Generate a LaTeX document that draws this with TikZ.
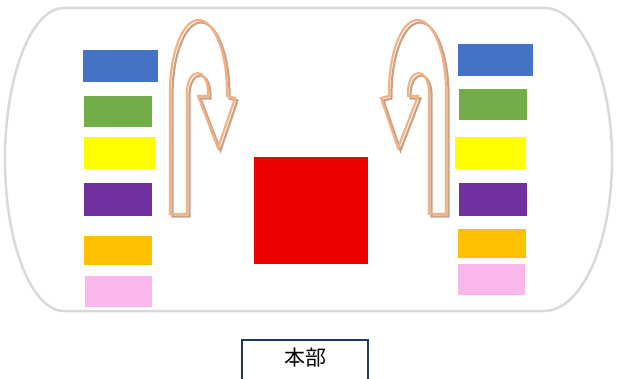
\documentclass[tikz,border=0pt]{standalone}
\usepackage{fontspec}
\newfontfamily\cjk{Noto Sans CJK JP}
\definecolor{outlinegray}{HTML}{D9D9D9}
\definecolor{cblue}{HTML}{4472C4}
\definecolor{cgreen}{HTML}{70AD47}
\definecolor{cyellow}{HTML}{FFFF00}
\definecolor{cpurple}{HTML}{7030A0}
\definecolor{corange}{HTML}{FFC000}
\definecolor{cpink}{HTML}{F9B7EB}
\definecolor{cred}{HTML}{EE0000}
\definecolor{arrfront}{HTML}{F4B183}
\definecolor{arrshadow}{HTML}{C9A187}
\definecolor{navy}{HTML}{1F3864}
\begin{document}
\begin{tikzpicture}[x=1pt,y=-1pt,
  colbox/.style={rectangle, inner sep=0pt, outer sep=0pt, draw=none},
  outlinesty/.style={draw=outlinegray, line width=2.5pt},
  arrowfront/.style={draw=arrfront, line width=2.2pt, line join=miter},
  arrowshadow/.style={draw=arrshadow, line width=2.2pt, line join=miter},
  hqbox/.style={rectangle, draw=navy, line width=2.2pt, inner sep=0pt,
    minimum width=125.5pt, minimum height=47pt, font=\cjk\fontsize{21}{24}\selectfont,
    text height=15pt, text depth=10pt}
]
\useasboundingbox (0,0) rectangle (617,379);

% outer rounded frame
\draw[outlinesty] (64,8) -- (544,8)
  arc[start angle=90, end angle=-90, x radius=68pt, y radius=151.5pt]
  -- (64,311)
  arc[start angle=270, end angle=90, x radius=59pt, y radius=151.5pt]
  -- cycle;

% left column
\node[colbox, fill=cblue,   minimum width=75pt, minimum height=32pt] (l1) at (120.5,66) {};
\node[colbox, fill=cgreen,  minimum width=68pt, minimum height=31pt] (l2) at (118,111.5) {};
\node[colbox, fill=cyellow, minimum width=71pt, minimum height=32pt] (l3) at (119.5,153) {};
\node[colbox, fill=cpurple, minimum width=68pt, minimum height=33pt] (l4) at (118,199.5) {};
\node[colbox, fill=corange, minimum width=68pt, minimum height=29pt] (l5) at (118,250.5) {};
\node[colbox, fill=cpink,   minimum width=67pt, minimum height=31pt] (l6) at (118.5,291.5) {};

% right column
\node[colbox, fill=cblue,   minimum width=75pt, minimum height=32pt] (r1) at (495.5,60) {};
\node[colbox, fill=cgreen,  minimum width=68pt, minimum height=31pt] (r2) at (493,104.5) {};
\node[colbox, fill=cyellow, minimum width=71pt, minimum height=32pt] (r3) at (490.5,153) {};
\node[colbox, fill=cpurple, minimum width=68pt, minimum height=33pt] (r4) at (493,199.5) {};
\node[colbox, fill=corange, minimum width=68pt, minimum height=29pt] (r5) at (492,243.5) {};
\node[colbox, fill=cpink,   minimum width=67pt, minimum height=31pt] (r6) at (491.5,279.5) {};

% red square
\node[colbox, fill=cred, minimum width=114pt, minimum height=107pt] (red) at (311,210.5) {};

% U-turn arrows
\def\uturnpath{(170,214) -- (170,92)
  arc[start angle=180, end angle=0, x radius=28.5pt, y radius=72pt]
  -- (227,96) -- (235,98) -- (218,148) -- (198,96) -- (208,96) -- (208,92)
  arc[start angle=0, end angle=180, x radius=10.5pt, y radius=19pt]
  -- (187,214) -- cycle}
\draw[arrowshadow, shift={(2.5,2.5)}] \uturnpath;
\draw[arrowfront] \uturnpath;
\begin{scope}[xshift=616pt, xscale=-1]
  \draw[arrowshadow, shift={(-2.5,2.5)}] \uturnpath;
  \draw[arrowfront] \uturnpath;
\end{scope}

% headquarters box
\node[hqbox, anchor=north] (hq) at (305,338.5) {本部};
\end{tikzpicture}
\end{document}
